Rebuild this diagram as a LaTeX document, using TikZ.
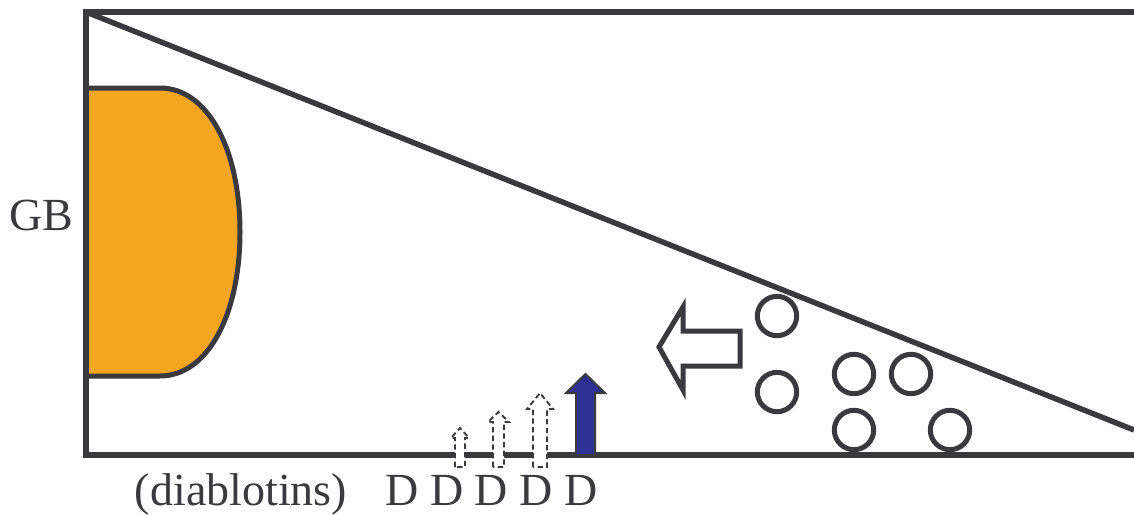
\documentclass[tikz,border=0pt]{standalone}
\usepackage{fontspec}
\setmainfont{Liberation Serif}
\usepackage{tikz}
\usepackage{xcolor}

\definecolor{ink}{RGB}{58,58,62}
\definecolor{grainorange}{RGB}{246,166,30}
\definecolor{navy}{RGB}{46,49,146}

\tikzset{
  wall/.style={draw=ink, line width=4.1pt, line join=miter},
  ball/.style={circle, draw=ink, line width=3.75pt, minimum size=29.5pt, inner sep=0pt},
  ghostarrow/.style={draw=ink, fill=white, line width=1.4pt, dash pattern=on 4pt off 2.5pt},
  lbl/.style={text=ink, font=\fontsize{34.5}{40}\selectfont, inner sep=0pt, anchor=base},
}

\begin{document}
\begin{tikzpicture}[x=0.75pt,y=0.75pt,yscale=-1,xscale=1]
\useasboundingbox (0,0) rectangle (1134,514);

%Shape: grain (orange)
\draw [draw=ink, fill=grainorange, line width=3.75pt]  (86,88) -- (160,88) .. controls (208,88) and (240,150) .. (240,232) .. controls (240,314) and (208,376) .. (160,376) -- (86,376) ;

%Shape: frame
\draw [wall]  (1134,12) -- (86,12) -- (86,455) -- (1134,455) ;
%Straight Lines: slope
\draw [wall]  (86,12) -- (1134,430) ;

%Shape: dashed arrows
\draw [ghostarrow]  (455,467) -- (455,438) -- (451,438) -- (460,428) -- (469,438) -- (465,438) -- (465,467) -- cycle ;
\draw [ghostarrow]  (493,467) -- (493,422) -- (488,422) -- (498.5,412) -- (509,422) -- (504,422) -- (504,467) -- cycle ;
\draw [ghostarrow]  (533,467) -- (533,409) -- (527,409) -- (540,393) -- (553,409) -- (547,409) -- (547,467) -- cycle ;
%Shape: solid arrow
\draw [draw=ink, fill=navy, line width=1.5pt]  (576,455) -- (576,393) -- (566,393) -- (585.5,374) -- (605,393) -- (595,393) -- (595,455) -- cycle ;

%Shape: hollow arrow (left)
\draw [draw=ink, fill=white, line width=3.75pt, line join=miter]  (740,331) -- (683,331) -- (683,307) -- (659,347) -- (683,390) -- (683,366) -- (740,366) -- cycle ;

%Shape: circles
\node [ball] (c1) at (777,316) {};
\node [ball] (c2) at (777,392) {};
\node [ball] (c3) at (854,374) {};
\node [ball] (c4) at (911,374) {};
\node [ball] (c5) at (854,430) {};
\node [ball] (c6) at (950,430) {};

% Text Node
\node [lbl] (gb) at (41,230) {GB};
% Text Node
\node [lbl] (diab) at (241,505) {(diablotins)};
% Text Node
\node [lbl] (dlist) at (491.5,505) {D D D D D};

\end{tikzpicture}
\end{document}
